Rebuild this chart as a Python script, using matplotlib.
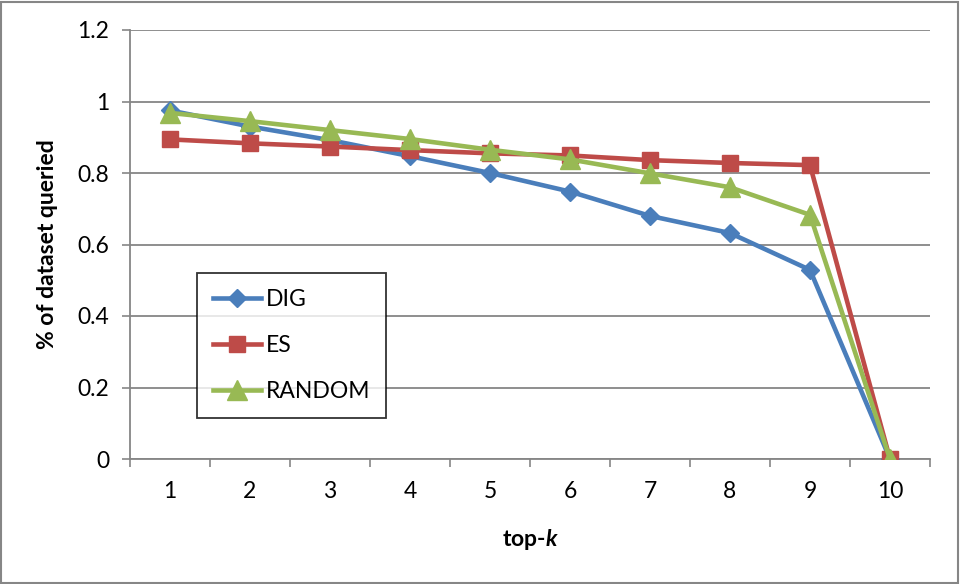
import matplotlib
matplotlib.use("Agg")
import matplotlib.pyplot as plt
from matplotlib.patches import Rectangle

plt.rcParams['font.family'] = ['Lato', 'DejaVu Sans']
plt.rcParams['mathtext.fontset'] = 'custom'
plt.rcParams['mathtext.it'] = 'Lato:italic:bold'
plt.rcParams['mathtext.rm'] = 'Lato:bold'

categories = ['1', '2', '3', '4', '5', '6', '7', '8', '9', '10']
dig = [0.975, 0.930, 0.892, 0.847, 0.800, 0.748, 0.680, 0.632, 0.529, 0.0]
es = [0.894, 0.883, 0.874, 0.864, 0.855, 0.849, 0.836, 0.828, 0.822, 0.0]
rnd = [0.968, 0.945, 0.920, 0.895, 0.865, 0.838, 0.799, 0.760, 0.683, 0.0]
yticks = [0, 0.2, 0.4, 0.6, 0.8, 1.0, 1.2]
ytick_labels = ['0', '0.2', '0.4', '0.6', '0.8', '1', '1.2']

W, H = 960, 584
fig = plt.figure(figsize=(W / 100, H / 100), dpi=100)
ax = fig.add_axes([130 / W, 1 - 459 / H, 800 / W, 429 / H])

x = list(range(1, len(categories) + 1))
c_dig, c_es, c_rnd = '#4A7EBB', '#BE4B48', '#98B954'
ax.plot(x, dig, color=c_dig, lw=3.3, marker='D', ms=9, label='DIG', zorder=3)
ax.plot(x, es, color=c_es, lw=3.3, marker='s', ms=12, label='ES', zorder=3)
ax.plot(x, rnd, color=c_rnd, lw=3.3, marker='^', ms=14, label='RANDOM', zorder=3)

ax.set_xlim(0.5, len(categories) + 0.5)
ax.set_ylim(0, 1.2)
ax.set_yticks(yticks)
ax.set_yticklabels(ytick_labels)
ax.set_xticks(x)
ax.set_xticklabels(categories)
ax.set_xticks([i + 0.5 for i in range(0, len(categories) + 1)], minor=True)
ax.tick_params(axis='x', which='major', length=0, pad=16, labelsize=16.5)
ax.tick_params(axis='x', which='minor', length=6, direction='out', color='#868686', width=1.2)
ax.tick_params(axis='y', which='major', length=6, direction='out', color='#868686', width=1.2, labelsize=16.5, pad=9)

ax.grid(axis='y', color='#868686', lw=1.3)
ax.set_axisbelow(True)
for s in ['top', 'right']:
    ax.spines[s].set_visible(False)
for s in ['left', 'bottom']:
    ax.spines[s].set_color('#868686')
    ax.spines[s].set_linewidth(1.3)

ax.set_ylabel('% of dataset queried', fontsize=16.5, fontweight='bold', labelpad=14)
ax.set_xlabel('top-$k$', fontsize=16.5, fontweight='bold', labelpad=18)

leg = ax.legend(loc='upper left', bbox_to_anchor=(197 / W, 1 - 273 / H),
                bbox_transform=fig.transFigure, frameon=True, fancybox=False,
                edgecolor='black', fontsize=16.5, handlelength=2.1, handletextpad=0.2,
                labelspacing=1.1, borderpad=0.7, borderaxespad=0)
leg.get_frame().set_linewidth(1.3)

fig.patches.append(Rectangle((1 / W, 1 / H), 1 - 3 / W, 1 - 3 / H, transform=fig.transFigure,
                             fill=False, edgecolor='#868686', lw=1.5))

fig.savefig('out.png', dpi=100)
